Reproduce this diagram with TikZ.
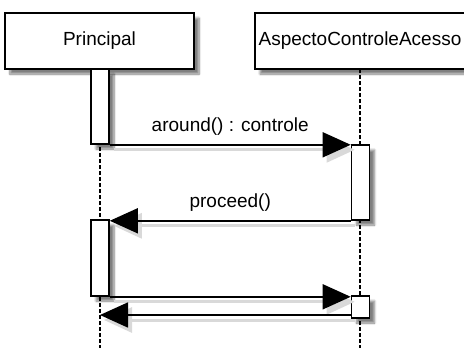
\documentclass[tikz,border=0pt]{standalone}
\usepackage{fontspec}
\setmainfont{Liberation Sans}
\usepackage{tikz}
\usetikzlibrary{arrows.meta,shadows.blur}

\tikzset{
  object/.style={draw, rectangle, black, fill=white, line width=1.6pt, minimum height=56pt, inner sep=0pt, font=\fontsize{19pt}{22pt}\selectfont, blur shadow={shadow xshift=5pt, shadow yshift=-5pt, shadow blur steps=8, shadow opacity=50}},
  activation/.style={draw, rectangle, black, fill=white, line width=1.6pt, minimum width=18pt, inner sep=0pt, blur shadow={shadow xshift=5pt, shadow yshift=-5pt, shadow blur steps=8, shadow opacity=50}},
  lifeline/.style={black, line width=1.2pt, dash pattern=on 4pt off 2pt},
  msg/.style={black, line width=1.6pt, -{Triangle[length=28pt, width=25pt]},
    preaction={draw=black!15, line width=3pt, transform canvas={shift={(4pt,-5pt)}}}},
  msglabel/.style={above=5pt, font=\fontsize{19pt}{22pt}\selectfont}
}

\begin{document}
\begin{tikzpicture}[x=1pt, y=-1pt]
            \useasboundingbox (0,0) rectangle (464,348);
            % lifelines
            \coordinate (PrincipalEnd) at (100,348);
            \coordinate (AspectoEnd) at (360,348);
            \draw[lifeline] (100,69) -- (PrincipalEnd);
            \draw[lifeline] (360,69) -- (AspectoEnd);
            % objects
            \node[object, minimum width=189pt] (Principal) at (99.5,41) {Principal};
            \node[object, minimum width=210pt] (Aspecto) at (360,41) {AspectoControleAcesso};
            % activation bars
            \node[activation, minimum height=75pt] (PrincipalBarA) at (100,106.5) {};
            \node[activation, minimum height=75pt] (AspectoBarA) at (360.5,182.5) {};
            \node[activation, minimum height=76pt] (PrincipalBarB) at (100,258) {};
            \node[activation, minimum height=22pt] (AspectoBarB) at (360.5,307) {};
            % messages
            \draw[msg] (PrincipalBarA.south east) -- node[msglabel] {around() : controle} (PrincipalBarA.south east -| AspectoBarA.west);
            \draw[msg] (AspectoBarA.south west) -- node[msglabel] {proceed()} (AspectoBarA.south west -| PrincipalBarB.east);
            \draw[msg] (PrincipalBarB.south east) -- (PrincipalBarB.south east -| AspectoBarB.west);
            \draw[msg] ([yshift=-8pt]AspectoBarB.west) -- ([yshift=-8pt]AspectoBarB.west -| PrincipalEnd);
\end{tikzpicture}
\end{document}
